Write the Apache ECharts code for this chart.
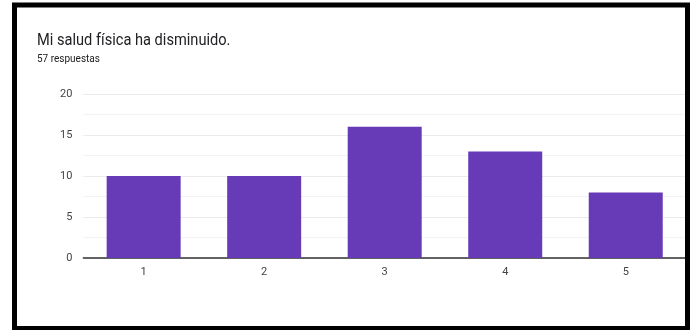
<!DOCTYPE html>
<html>
<head>
<meta charset="utf-8">
<script src="https://cdn.jsdelivr.net/npm/echarts@6/dist/echarts.min.js"></script>
<style>
  html, body { margin: 0; padding: 0; background: #ffffff; }
  #chart { width: 693px; height: 330px; }
</style>
</head>
<body>
<div id="chart"></div>
<script>
// Survey answers on a 1–5 scale
const titleText = 'Mi salud física ha disminuido.';
const subtitleText = '57 respuestas';
const categories = ['1', '2', '3', '4', '5'];
const counts = [10, 10, 16, 13, 8];
const yTicks = [0, 5, 10, 15, 20];

const baseFont = 'Roboto, "Liberation Sans", sans-serif';

const chart = echarts.init(document.getElementById('chart'), null, { renderer: 'canvas' });

chart.setOption({
  backgroundColor: '#ffffff',
  animation: false,
  title: {
    text: subtitleText,
    left: 32,
    top: 49,
    textStyle: { fontFamily: baseFont, fontSize: 10, fontWeight: 'normal', color: '#202124' }
  },
  grid: { left: 83.4, right: 7, top: 94, bottom: 72, containLabel: false },
  xAxis: {
    type: 'category',
    data: categories,
    axisLine: { show: true, lineStyle: { color: '#333333', width: 1.5 } },
    axisTick: { show: false },
    axisLabel: { color: '#444444', fontFamily: baseFont, fontSize: 11, margin: 9 }
  },
  yAxis: {
    type: 'value',
    min: yTicks[0],
    max: yTicks[yTicks.length - 1],
    interval: yTicks[1] - yTicks[0],
    axisLine: { show: false },
    axisTick: { show: false },
    axisLabel: { color: '#444444', fontFamily: baseFont, fontSize: 11, margin: 11 },
    splitLine: { show: true, lineStyle: { color: '#ebebeb', width: 1 } },
    minorTick: { show: false, splitNumber: 2 },
    minorSplitLine: { show: true, lineStyle: { color: '#f3f3f3', width: 1 } }
  },
  series: [
    {
      type: 'bar',
      data: counts,
      barCategoryGap: '38.6%',
      itemStyle: { color: '#673ab7' }
    }
  ],
  graphic: [
    {
      // question heading, set in a slightly condensed face
      type: 'text',
      x: 37,
      y: 32,
      scaleX: 0.86,
      silent: true,
      style: {
        text: titleText,
        font: '17px Roboto, "Liberation Sans", sans-serif',
        fill: '#202124',
        verticalAlign: 'top',
        align: 'left'
      }
    },
    {
      // black frame around the card
      type: 'rect',
      z: 100,
      silent: true,
      shape: { x: 14.5, y: 5, width: 673, height: 323.5 },
      style: { fill: null, stroke: '#000000', lineWidth: 5 }
    }
  ]
});
</script>
</body>
</html>
